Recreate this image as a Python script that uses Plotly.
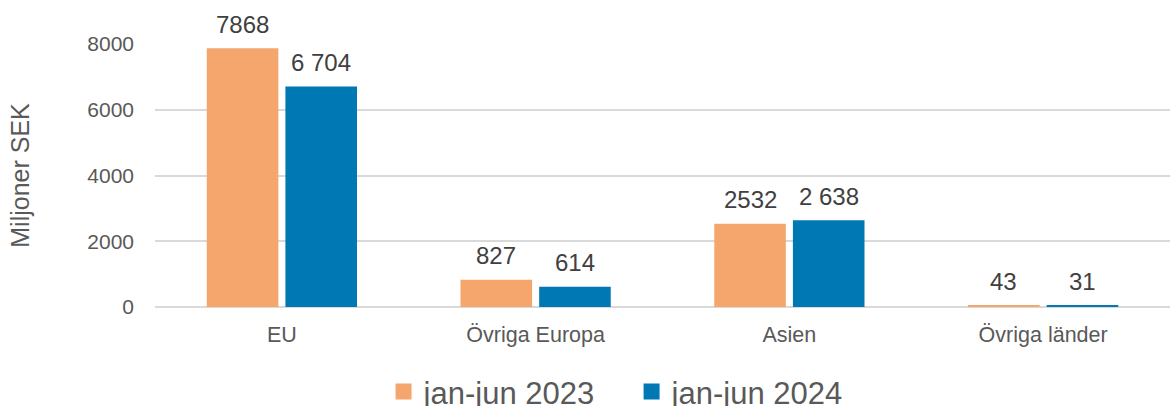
import plotly.graph_objects as go

categories = ["EU", "Övriga Europa", "Asien", "Övriga länder"]
values_2023 = [7868, 827, 2532, 43]
values_2024 = [6704, 614, 2638, 31]
labels_2023 = ["7868", "827", "2532", "43"]
labels_2024 = ["6 704", "614", "2 638", "31"]
series_names = ["jan-jun 2023", "jan-jun 2024"]
colors = ["#F4A66D", "#0078B4"]
y_ticks = [0, 2000, 4000, 6000, 8000]

W, H = 1170, 406
ML, MR, MT, MB = 155, 0, 44, 99
BARGAP = 0.38
plot_w = W - ML - MR
cat_w = plot_w / len(categories)
shift = (1 - BARGAP) * cat_w / 4

fig = go.Figure()
fig.add_trace(go.Bar(x=categories, y=values_2023, name=series_names[0], showlegend=False,
                     marker=dict(color=colors[0], line=dict(width=0))))
fig.add_trace(go.Bar(x=categories, y=values_2024, name=series_names[1], showlegend=False,
                     marker=dict(color=colors[1], line=dict(width=0))))
# legend entries with larger square swatches
for name, col in zip(series_names, colors):
    fig.add_trace(go.Scatter(x=[None], y=[None], mode="markers", name=name,
                             marker=dict(symbol="square", size=16, color=col)))

lab_font = dict(family="Liberation Sans, Arial", size=24, color="#404040")
for cat, v, t in zip(categories, values_2023, labels_2023):
    fig.add_annotation(x=cat, y=v, text=t, showarrow=False, xshift=-shift, yshift=24,
                       yanchor="middle", font=lab_font)
for cat, v, t in zip(categories, values_2024, labels_2024):
    fig.add_annotation(x=cat, y=v, text=t, showarrow=False, xshift=shift, yshift=24,
                       yanchor="middle", font=lab_font)

fig.update_layout(
    width=W, height=H,
    margin=dict(l=ML, r=MR, t=MT, b=MB, autoexpand=False),
    paper_bgcolor="white", plot_bgcolor="white",
    barmode="group", bargap=BARGAP, bargroupgap=0.09,
    showlegend=True,
    legend=dict(orientation="h", x=0.2252, xanchor="left", y=-0.323, yanchor="middle",
                font=dict(family="Liberation Sans, Arial", size=31, color="#595959"),
                traceorder="normal", entrywidth=203, itemwidth=30),
    font=dict(family="Liberation Sans, Arial", color="#595959"),
)
fig.update_xaxes(showline=False, ticks="", automargin=False, ticklabelstandoff=12,
                 tickfont=dict(family="Liberation Sans, Arial", size=21.5, color="#595959"))
fig.update_yaxes(range=[0, 8000], tickvals=y_ticks, ticktext=[str(v) for v in y_ticks],
                 showgrid=True, gridcolor="#D9D9D9", gridwidth=1.5,
                 zeroline=True, zerolinecolor="#D9D9D9", zerolinewidth=2,
                 ticks="", ticklabelstandoff=20, automargin=False,
                 tickfont=dict(family="Liberation Sans, Arial", size=21, color="#595959"),
                 title=dict(text="Miljoner SEK", standoff=50,
                            font=dict(family="Liberation Sans, Arial", size=25, color="#595959")))
fig.write_html("out.html", config={"displayModeBar": False},
               post_script="document.body.style.margin='0';document.body.style.overflow='hidden';")
